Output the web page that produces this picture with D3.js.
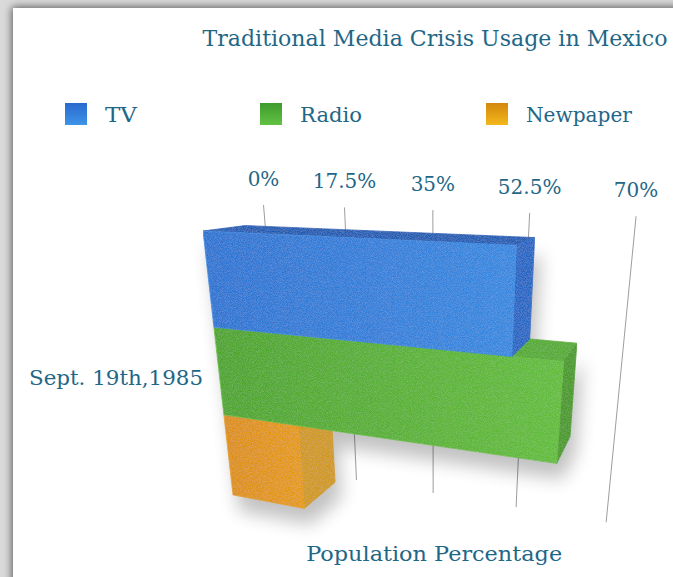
<!DOCTYPE html>
<html>
<head>
<meta charset="utf-8">
<script src="https://cdn.jsdelivr.net/npm/d3@7"></script>
<style>
  html, body { margin: 0; padding: 0; background: #d6d6d6; }
  svg { display: block; }
</style>
</head>
<body>
<svg id="chart" width="673" height="577"></svg>
<script>
// ---- data ----
const chartTitle = "Traditional Media Crisis Usage in Mexico";
const categoryLabel = "Sept. 19th,1985";
const axisTitle = "Population Percentage";
const series = ["TV", "Radio", "Newpaper"];
const values = [55, 63, 16];
const tickValues = [0, 17.5, 35, 52.5, 70];
const tickLabels = ["0%", "17.5%", "35%", "52.5%", "70%"];
const valueMax = 70;

// ---- styles ----
const palette = {
  "TV":       { front: ["#2a74d2", "#3488e0"], top: "#1f5db4", end: "#2366c4", key: ["#2a69cf", "#3e94e8"] },
  "Radio":    { front: ["#4ca42a", "#62bd39"], top: "#55ab31", end: "#4a9a28", key: ["#3f9a2c", "#62c244"] },
  "Newpaper": { front: ["#dc8e0a", "#e49a10"], top: "#d08a0b", end: "#cf981a", key: ["#d4870c", "#f2b81c"] }
};
const textColor = "#1f6787";
const font = "'DejaVu Serif', 'Liberation Serif', serif";

// ---- 3D view: value axis (x), stacked bar rows (y), depth (z) ----
// perspective camera described by its three vanishing points and the image of the origin
const camera = {
  origin: [203, 231],
  vanX: [-1600, 149], kX: -0.18844,
  vanY: [435, 2272],  kY: 0.0495,
  vanZ: [705, 166],   kZ: 0.1409
};
function project(X, Y, Z) {
  const a = camera.kX * X, b = camera.kY * Y, c = camera.kZ * Z;
  const w = 1 + a + b + c;
  return [
    (a * camera.vanX[0] + b * camera.vanY[0] + c * camera.vanZ[0] + camera.origin[0]) / w,
    (a * camera.vanX[1] + b * camera.vanY[1] + c * camera.vanZ[1] + camera.origin[1]) / w
  ];
}

const x = d3.scaleLinear().domain([0, valueMax]).range([0, 1]);
const y = d3.scaleBand().domain(series).range([0, 3]);
const barDepth = 0.65;      // bars stand in front of the grid wall
const wallZ = 1;
const gridTop = -0.2, gridBottom = 3.13;

const svg = d3.select("#chart");
const defs = svg.append("defs");

// panel shadow
const ps = defs.append("filter").attr("id", "panelShadow")
  .attr("x", "-10%").attr("y", "-10%").attr("width", "130%").attr("height", "130%");
ps.append("feDropShadow").attr("dx", -1).attr("dy", -1).attr("stdDeviation", 4.5)
  .attr("flood-color", "#000").attr("flood-opacity", 0.6);

// soft bar shadow
const bs = defs.append("filter").attr("id", "barShadow")
  .attr("x", "-30%").attr("y", "-30%").attr("width", "160%").attr("height", "160%");
bs.append("feGaussianBlur").attr("stdDeviation", 9);

// fine grain on the bar surfaces
const gr = defs.append("filter").attr("id", "grain")
  .attr("x", "0%").attr("y", "0%").attr("width", "100%").attr("height", "100%");
gr.append("feTurbulence").attr("type", "fractalNoise").attr("baseFrequency", 1.2)
  .attr("numOctaves", 1).attr("seed", 7).attr("result", "noise");
gr.append("feColorMatrix").attr("in", "noise").attr("type", "matrix")
  .attr("values", "0 0 0 0 1  0 0 0 0 1  0 0 0 0 1  0.25 0 0 0 -0.09").attr("result", "specks");
gr.append("feComposite").attr("in", "specks").attr("in2", "SourceGraphic")
  .attr("operator", "in").attr("result", "grainIn");
const gm = gr.append("feMerge");
gm.append("feMergeNode").attr("in", "SourceGraphic");
gm.append("feMergeNode").attr("in", "grainIn");

function linGrad(id, c0, c1, vertical) {
  const g = defs.append("linearGradient").attr("id", id)
    .attr("x1", 0).attr("y1", 0).attr("x2", vertical ? 0 : 1).attr("y2", vertical ? 1 : 0);
  g.append("stop").attr("offset", "0%").attr("stop-color", c0);
  g.append("stop").attr("offset", "100%").attr("stop-color", c1);
}
series.forEach((s, i) => {
  linGrad("front" + i, palette[s].front[0], palette[s].front[1], false);
  linGrad("key" + i, palette[s].key[0], palette[s].key[1], true);
});

// background + white panel
svg.append("rect").attr("width", 673).attr("height", 577).attr("fill", "#dadada");
svg.append("rect").attr("x", 13).attr("y", 8).attr("width", 720).attr("height", 640)
  .attr("fill", "#ffffff").attr("filter", "url(#panelShadow)");

// title
svg.append("text").attr("x", 435).attr("y", 45.5).attr("text-anchor", "middle")
  .attr("font-family", font).attr("font-size", 21.5).attr("fill", textColor)
  .attr("textLength", 465).attr("lengthAdjust", "spacingAndGlyphs")
  .text(chartTitle);

// legend
const legendX = [65, 260, 486];
const legendW = [32, 62, 106];
const legend = svg.append("g");
series.forEach((s, i) => {
  legend.append("rect").attr("x", legendX[i]).attr("y", 103).attr("width", 22).attr("height", 22)
    .attr("fill", `url(#key${i})`);
  legend.append("text").attr("x", legendX[i] + 40).attr("y", 122)
    .attr("font-family", font).attr("font-size", 20).attr("fill", textColor)
    .attr("textLength", legendW[i]).attr("lengthAdjust", "spacingAndGlyphs")
    .text(s);
});

const poly = pts => "M" + pts.map(p => project(...p).map(v => v.toFixed(2)).join(",")).join("L") + "Z";

// grid lines on the back wall
const grid = svg.append("g");
tickValues.forEach((t, i) => {
  const p0 = project(x(t), gridTop, wallZ), p1 = project(x(t), gridBottom, wallZ);
  grid.append("line").attr("x1", p0[0]).attr("y1", p0[1]).attr("x2", p1[0]).attr("y2", p1[1])
    .attr("stroke", "#9d9d9d").attr("stroke-width", 1);
  grid.append("text").attr("x", p0[0]).attr("y", p0[1] - 19).attr("text-anchor", "middle")
    .attr("font-family", font).attr("font-size", 20).attr("fill", textColor)
    .text(tickLabels[i]);
});

// bars, drawn from the lowest row up so upper bars overlap correctly
const order = d3.range(series.length).reverse();
const shadows = svg.append("g").attr("filter", "url(#barShadow)").attr("opacity", 0.24);
order.forEach(i => {
  const s = series[i], x1 = x(values[i]), y0 = y(s), y1 = y0 + y.bandwidth(), d = barDepth;
  shadows.append("path")
    .attr("d", poly([[0, y0, 0], [x1, y0, 0], [x1, y0, d], [x1, y1, d], [x1, y1, 0], [0, y1, 0]]))
    .attr("transform", "translate(6,16)")
    .attr("fill", "#000");
});

const bars = svg.append("g");
order.forEach(i => {
  const s = series[i], x1 = x(values[i]), y0 = y(s), y1 = y0 + y.bandwidth(), d = barDepth;
  const g = bars.append("g").attr("filter", "url(#grain)");
  const faces = [
    { pts: [[0, y0, 0], [x1, y0, 0], [x1, y0, d], [0, y0, d]], fill: palette[s].top },
    { pts: [[x1, y0, 0], [x1, y0, d], [x1, y1, d], [x1, y1, 0]], fill: palette[s].end },
    { pts: [[0, y0, 0], [x1, y0, 0], [x1, y1, 0], [0, y1, 0]], fill: `url(#front${i})`, stroke: palette[s].front[1] }
  ];
  faces.forEach(f => {
    g.append("path").attr("d", poly(f.pts)).attr("fill", f.fill)
      .attr("stroke", f.stroke || f.fill).attr("stroke-width", 0.8).attr("stroke-linejoin", "round");
  });
});

// category label
const cp = project(0, 1.5, 0);
svg.append("text").attr("x", cp[0] - 16).attr("y", cp[1] + 13).attr("text-anchor", "end")
  .attr("font-family", font).attr("font-size", 21).attr("fill", textColor)
  .attr("textLength", 174).attr("lengthAdjust", "spacingAndGlyphs")
  .text(categoryLabel);

// value axis title
const ap = project(x(valueMax / 2), gridBottom, wallZ);
svg.append("text").attr("x", ap[0] + 1).attr("y", ap[1] + 68).attr("text-anchor", "middle")
  .attr("font-family", font).attr("font-size", 21).attr("fill", textColor)
  .attr("textLength", 256).attr("lengthAdjust", "spacingAndGlyphs")
  .text(axisTitle);
</script>
</body>
</html>
